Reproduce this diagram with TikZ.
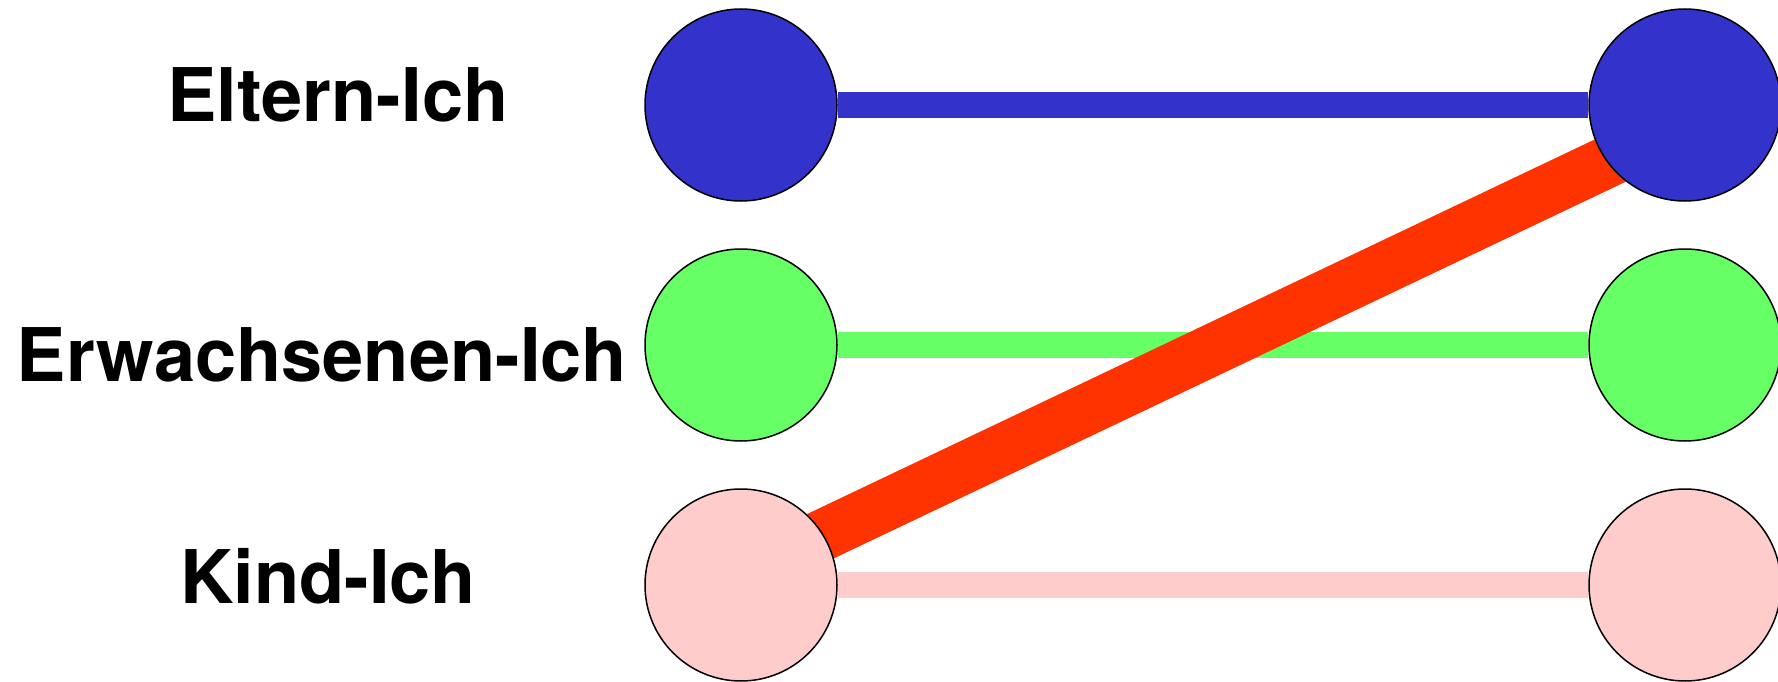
\documentclass[tikz,border=0pt]{standalone}
\usepackage{fontspec}
\setmainfont{TeX Gyre Heros}
\usetikzlibrary{backgrounds}
\definecolor{eblue}{HTML}{3333CC}
\definecolor{egreen}{HTML}{66FF66}
\definecolor{epink}{HTML}{FFCCCC}
\definecolor{ered}{HTML}{FF3300}
\begin{document}
\begin{tikzpicture}[x=1pt,y=-1pt,
  ego/.style={circle,draw=black,line width=1.5pt,minimum size=192pt,inner sep=0pt},
  lbl/.style={anchor=base,inner sep=0pt,font=\fontsize{74}{80}\selectfont\bfseries},
  link/.style={line width=26pt}]
\useasboundingbox (0,0) rectangle (1778,682);
\node[ego,fill=eblue] (p1) at (741,105) {};
\node[ego,fill=egreen] (a1) at (741,345) {};
\node[ego,fill=epink] (k1) at (741,585) {};
\node[ego,fill=eblue] (p2) at (1685,105) {};
\node[ego,fill=egreen] (a2) at (1685,345) {};
\node[ego,fill=epink] (k2) at (1685,585) {};
\node[lbl] (lp) at (338,122) {Eltern-Ich};
\node[lbl] (la) at (322,381) {Erwachsenen-Ich};
\node[lbl] (lk) at (328,603) {Kind-Ich};
\begin{scope}[on background layer]
\draw[link,eblue] (p1) -- (p2);
\draw[link,egreen] (a1) -- (a2);
\draw[link,epink] (k1) -- (k2);
\draw[ered,line width=51.5pt] ([yshift=11pt]k1.center) -- ([yshift=-20pt]p2.center);
\end{scope}
\end{tikzpicture}
\end{document}
